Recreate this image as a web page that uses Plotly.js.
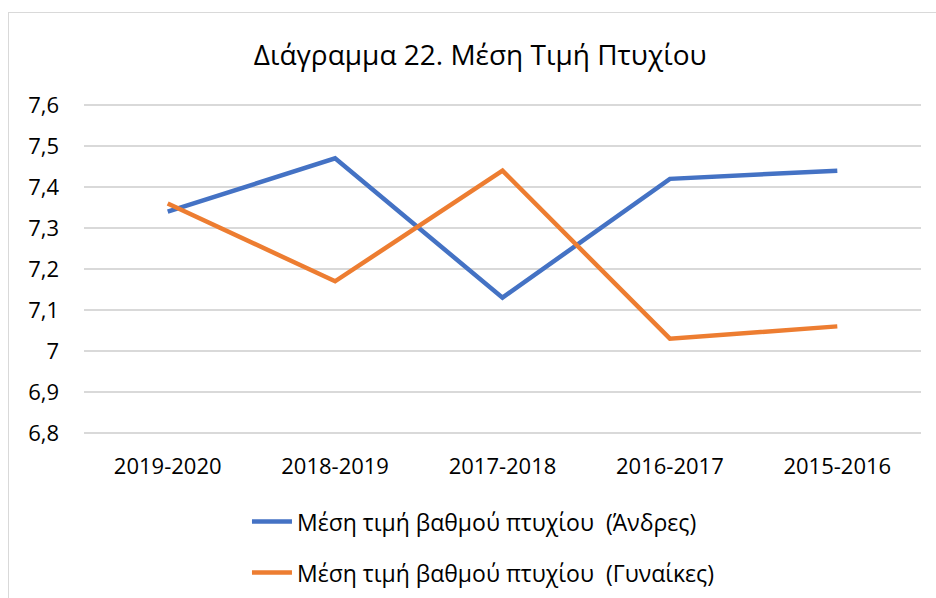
<!DOCTYPE html>
<html>
<head>
<meta charset="utf-8">
<script src="https://cdn.plot.ly/plotly-3.0.1.min.js"></script>
<style>
html,body{margin:0;padding:0;background:#fff;}
#wrap{position:relative;width:936px;height:598px;overflow:hidden;}
#chart{position:absolute;left:0;top:0;width:936px;height:598px;}
#frame{position:absolute;left:8px;top:12px;width:1000px;height:700px;border:1.5px solid #d9d9d9;pointer-events:none;}
</style>
</head>
<body>
<div id="wrap"><div id="chart"></div><div id="frame"></div></div>
<script>
const categories = ["2019-2020", "2018-2019", "2017-2018", "2016-2017", "2015-2016"];
const men = [7.34, 7.47, 7.13, 7.42, 7.44];
const women = [7.36, 7.17, 7.44, 7.03, 7.06];
const seriesNames = ["Μέση τιμή βαθμού πτυχίου  (Άνδρες)", "Μέση τιμή βαθμού πτυχίου  (Γυναίκες)"];
const yTickVals = [6.8, 6.9, 7.0, 7.1, 7.2, 7.3, 7.4, 7.5, 7.6];
const yTickText = ["6,8", "6,9", "7", "7,1", "7,2", "7,3", "7,4", "7,5", "7,6"];
const titleText = "Διάγραμμα 22. Μέση Τιμή Πτυχίου";

const FONT = "Open Sans, Noto Sans, sans-serif";
const data = [
  {x: categories, y: men, type: "scatter", mode: "lines", name: seriesNames[0], legendgroup: "a",
   line: {color: "#4472C4", width: 4.5}},
  {x: categories, y: women, type: "scatter", mode: "lines", name: seriesNames[1], legendgroup: "b",
   line: {color: "#ED7D31", width: 4.5}}
];
const layout = {
  width: 936, height: 598,
  margin: {l: 84, r: 15, t: 101, b: 161, autoexpand: false},
  paper_bgcolor: "rgba(0,0,0,0)", plot_bgcolor: "rgba(0,0,0,0)",
  font: {family: FONT, color: "#000"},
  title: {text: titleText, x: 0.513, xref: "container", xanchor: "center", y: 0.908, yref: "container", yanchor: "middle",
          font: {family: FONT, size: 28, color: "#000"}},
  xaxis: {type: "category", range: [-0.5, 4.5], showgrid: false, zeroline: false, showline: false, tickangle: 0,
          ticks: "", tickfont: {family: FONT, size: 22, color: "#000"}, ticklabelstandoff: 14, fixedrange: true},
  yaxis: {range: [6.79, 7.61], tickvals: yTickVals, ticktext: yTickText, showgrid: true, gridcolor: "#d9d9d9", gridwidth: 1.5,
          zeroline: false, showline: false, ticks: "", tickfont: {family: FONT, size: 22, color: "#000"}, ticklabelstandoff: 24, fixedrange: true},
  showlegend: true,
  legend: {orientation: "v", x: 0.516, xref: "container", xanchor: "center", y: 0.085, yref: "container", yanchor: "middle",
           font: {family: FONT, size: 23, color: "#000"}, tracegroupgap: 18, itemwidth: 40, bgcolor: "rgba(0,0,0,0)"}
};
Plotly.newPlot("chart", data, layout, {displayModeBar: false, staticPlot: true});
</script>
</body>
</html>
